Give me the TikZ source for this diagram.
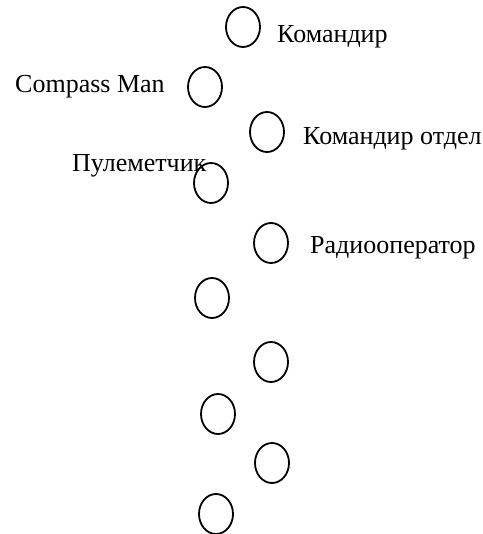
\documentclass[tikz,border=0pt]{standalone}
\usepackage{fontspec}
\setmainfont{Liberation Serif}
\usetikzlibrary{shapes.geometric}
\tikzset{
  man/.style={draw=black, line width=1.8pt, ellipse, inner sep=0pt, minimum width=34pt, minimum height=40pt},
  lbl/.style={anchor=base west, inner sep=0pt, font=\fontsize{26}{30}\selectfont}
}
\begin{document}
\begin{tikzpicture}[x=1pt,y=-1pt]
\useasboundingbox (0,0) rectangle (482,534);
\clip (0,0) rectangle (482,534);
\node[man] (m1) at (243,27) {};
\node[man] (m2) at (205,87) {};
\node[man] (m3) at (267,132) {};
\node[man] (m4) at (211,183) {};
\node[man] (m5) at (271,243) {};
\node[man] (m6) at (212,298) {};
\node[man] (m7) at (271,362) {};
\node[man] (m8) at (218,414) {};
\node[man] (m9) at (272,463) {};
\node[man] (m10) at (216,514) {};
\node[lbl] (l1) at (277,43) {Командир};
\node[lbl] (l2) at (15,93) {Compass Man};
\node[lbl] (l3) at (303,145) {Командир отдел};
\node[lbl] (l4) at (72,172) {Пулеметчик};
\node[lbl] (l5) at (310,253) {Радиооператор};
\end{tikzpicture}
\end{document}
